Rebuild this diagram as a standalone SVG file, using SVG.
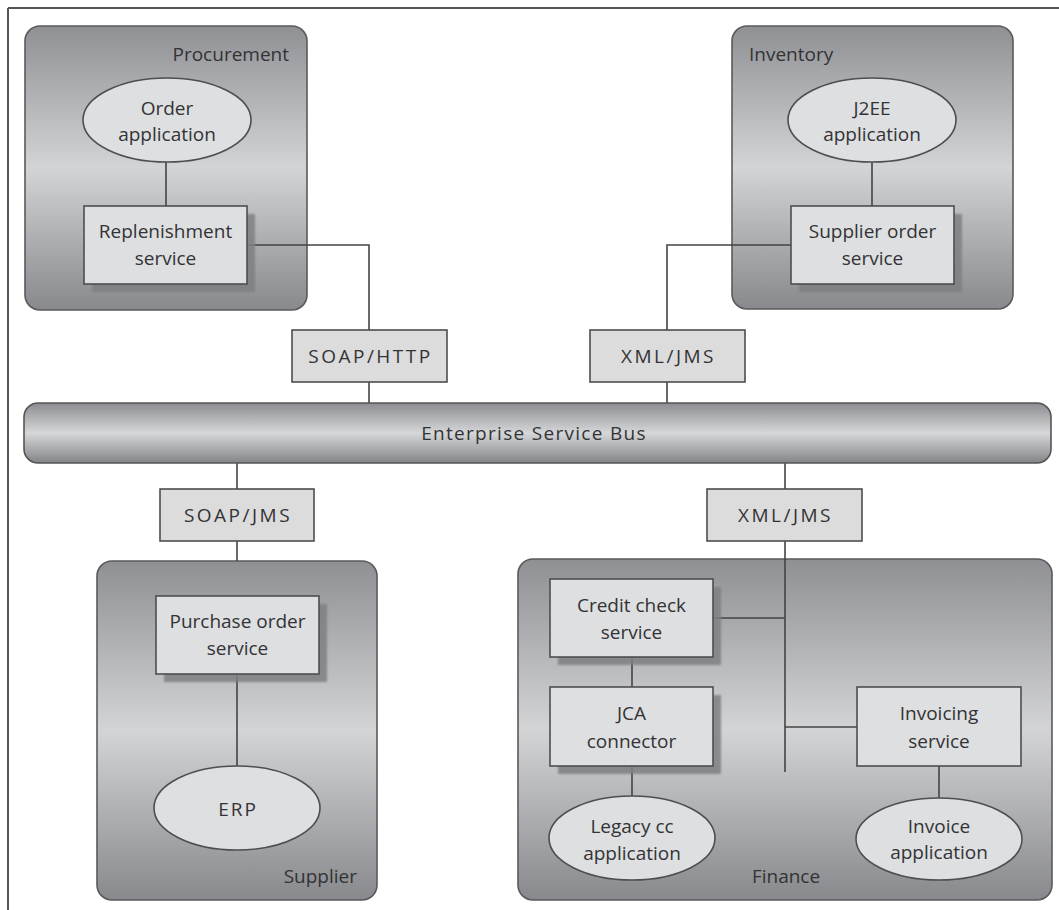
<svg xmlns="http://www.w3.org/2000/svg" width="1059" height="910" viewBox="0 0 1059 910">
<defs>
<linearGradient id="gCont" x1="0" y1="0" x2="0" y2="1">
<stop offset="0" stop-color="#8e9093"/>
<stop offset="0.5" stop-color="#d3d4d6"/>
<stop offset="1" stop-color="#87898c"/>
</linearGradient>
<linearGradient id="gBus" x1="0" y1="0" x2="0" y2="1">
<stop offset="0" stop-color="#8c8d90"/>
<stop offset="0.5" stop-color="#d6d7d9"/>
<stop offset="1" stop-color="#838487"/>
</linearGradient>
<filter id="blur" x="-10%" y="-10%" width="120%" height="120%"><feGaussianBlur stdDeviation="1.2"/></filter>
</defs>
<style>
.frame{stroke:#555;stroke-width:2;fill:none}
.cont{fill:url(#gCont);stroke:#5a5a5c;stroke-width:1.6}
.box{fill:#dedfe1;stroke:#4e4e50;stroke-width:1.6}
.shadow{fill:#7e8083;opacity:0.85;filter:url(#blur)}
.ell{fill:#dedfe1;stroke:#4e4e50;stroke-width:1.6}
.proto{fill:#dcdcdd;stroke:#4e4e50;stroke-width:1.6}
.bus{fill:url(#gBus);stroke:#555;stroke-width:1.6}
.conn{stroke:#444;stroke-width:1.6;fill:none}
text{font-family:"Open Sans","Noto Sans","DejaVu Sans",sans-serif;font-size:19px;fill:#333335}
.c{text-anchor:middle}
.r{text-anchor:end}
.p{letter-spacing:2.5px}
</style>
<rect width="1059" height="910" fill="#fff"/>
<g id="frame">
<line class="frame" x1="8" y1="8" x2="1059" y2="8"/>
<line class="frame" x1="8" y1="8" x2="8" y2="910"/>
</g>

<g id="procurement">
<rect class="cont" x="25" y="26" width="282" height="284" rx="15"/>
<text class="r" x="289" y="61">Procurement</text>
</g>
<g id="inventory">
<rect class="cont" x="732" y="26" width="281" height="283" rx="15"/>
<text x="749" y="61">Inventory</text>
</g>
<g id="supplier">
<rect class="cont" x="97" y="561" width="280" height="339" rx="15"/>
<text class="r" x="357" y="883">Supplier</text>
</g>
<g id="finance">
<rect class="cont" x="518" y="559" width="534" height="341" rx="15"/>
<text class="c" x="786" y="883">Finance</text>
</g>

<g id="connectors">
<line class="conn" x1="166" y1="162" x2="166" y2="206"/>
<polyline class="conn" points="247,245 369,245 369,330"/>
<line class="conn" x1="369" y1="382" x2="369" y2="403"/>
<line class="conn" x1="872" y1="162" x2="872" y2="206"/>
<polyline class="conn" points="791,245 667,245 667,330"/>
<line class="conn" x1="667" y1="382" x2="667" y2="403"/>
<line class="conn" x1="237" y1="463" x2="237" y2="489"/>
<line class="conn" x1="237" y1="541" x2="237" y2="561"/>
<line class="conn" x1="237" y1="674" x2="237" y2="766"/>
<line class="conn" x1="785" y1="463" x2="785" y2="489"/>
<line class="conn" x1="785" y1="541" x2="785" y2="772"/>
<line class="conn" x1="713" y1="618" x2="785" y2="618"/>
<line class="conn" x1="785" y1="727" x2="857" y2="727"/>
<line class="conn" x1="632" y1="657" x2="632" y2="687"/>
<line class="conn" x1="632" y1="766" x2="632" y2="797"/>
<line class="conn" x1="939" y1="766" x2="939" y2="798"/>
</g>

<g id="order-application">
<ellipse class="ell" cx="167" cy="120" rx="84" ry="42"/>
<text class="c" x="167" y="115">Order</text>
<text class="c" x="167" y="141">application</text>
</g>
<g id="replenishment-service">
<rect class="shadow" x="92" y="214" width="163" height="78"/>
<rect class="box" x="84" y="206" width="163" height="78"/>
<text class="c" x="165.5" y="238">Replenishment</text>
<text class="c" x="165.5" y="265">service</text>
</g>
<g id="j2ee-application">
<ellipse class="ell" cx="872" cy="120" rx="84" ry="42"/>
<text class="c" x="872" y="115">J2EE</text>
<text class="c" x="872" y="141">application</text>
</g>
<g id="supplier-order-service">
<rect class="shadow" x="799" y="214" width="163" height="78"/>
<rect class="box" x="791" y="206" width="163" height="78"/>
<text class="c" x="872.5" y="238">Supplier order</text>
<text class="c" x="872.5" y="265">service</text>
</g>

<g id="soap-http">
<rect class="proto" x="292" y="330" width="155" height="52"/>
<text class="c p" x="370.5" y="363">SOAP/HTTP</text>
</g>
<g id="xml-jms-top">
<rect class="proto" x="590" y="330" width="155" height="52"/>
<text class="c p" x="668.5" y="363">XML/JMS</text>
</g>

<g id="esb">
<rect class="bus" x="24" y="403" width="1027" height="60" rx="14"/>
<text class="c" x="534" y="440" style="letter-spacing:1.3px">Enterprise Service Bus</text>
</g>

<g id="soap-jms">
<rect class="proto" x="160" y="489" width="154" height="52"/>
<text class="c p" x="238" y="522">SOAP/JMS</text>
</g>
<g id="xml-jms-bottom">
<rect class="proto" x="707" y="489" width="155" height="52"/>
<text class="c p" x="785.5" y="522">XML/JMS</text>
</g>

<g id="purchase-order-service">
<rect class="shadow" x="164" y="604" width="163" height="78"/>
<rect class="box" x="156" y="596" width="163" height="78"/>
<text class="c" x="237.5" y="628">Purchase order</text>
<text class="c" x="237.5" y="655">service</text>
</g>
<g id="erp">
<ellipse class="ell" cx="237" cy="808" rx="83" ry="42"/>
<text class="c p" x="238" y="816" style="letter-spacing:2px">ERP</text>
</g>

<g id="credit-check-service">
<rect class="shadow" x="558" y="587" width="163" height="78"/>
<rect class="box" x="550" y="579" width="163" height="78"/>
<text class="c" x="631.5" y="612">Credit check</text>
<text class="c" x="631.5" y="639">service</text>
</g>
<g id="jca-connector">
<rect class="shadow" x="558" y="695" width="163" height="79"/>
<rect class="box" x="550" y="687" width="163" height="79"/>
<text class="c" x="631.5" y="720">JCA</text>
<text class="c" x="631.5" y="748">connector</text>
</g>
<g id="legacy-cc-application">
<ellipse class="ell" cx="632" cy="838" rx="83" ry="42"/>
<text class="c" x="632" y="833">Legacy cc</text>
<text class="c" x="632" y="860">application</text>
</g>
<g id="invoicing-service">
<rect class="box" x="857" y="687" width="164" height="79"/>
<text class="c" x="939" y="720">Invoicing</text>
<text class="c" x="939" y="748">service</text>
</g>
<g id="invoice-application">
<ellipse class="ell" cx="939" cy="839" rx="83" ry="41"/>
<text class="c" x="939" y="833">Invoice</text>
<text class="c" x="939" y="859">application</text>
</g>
</svg>
